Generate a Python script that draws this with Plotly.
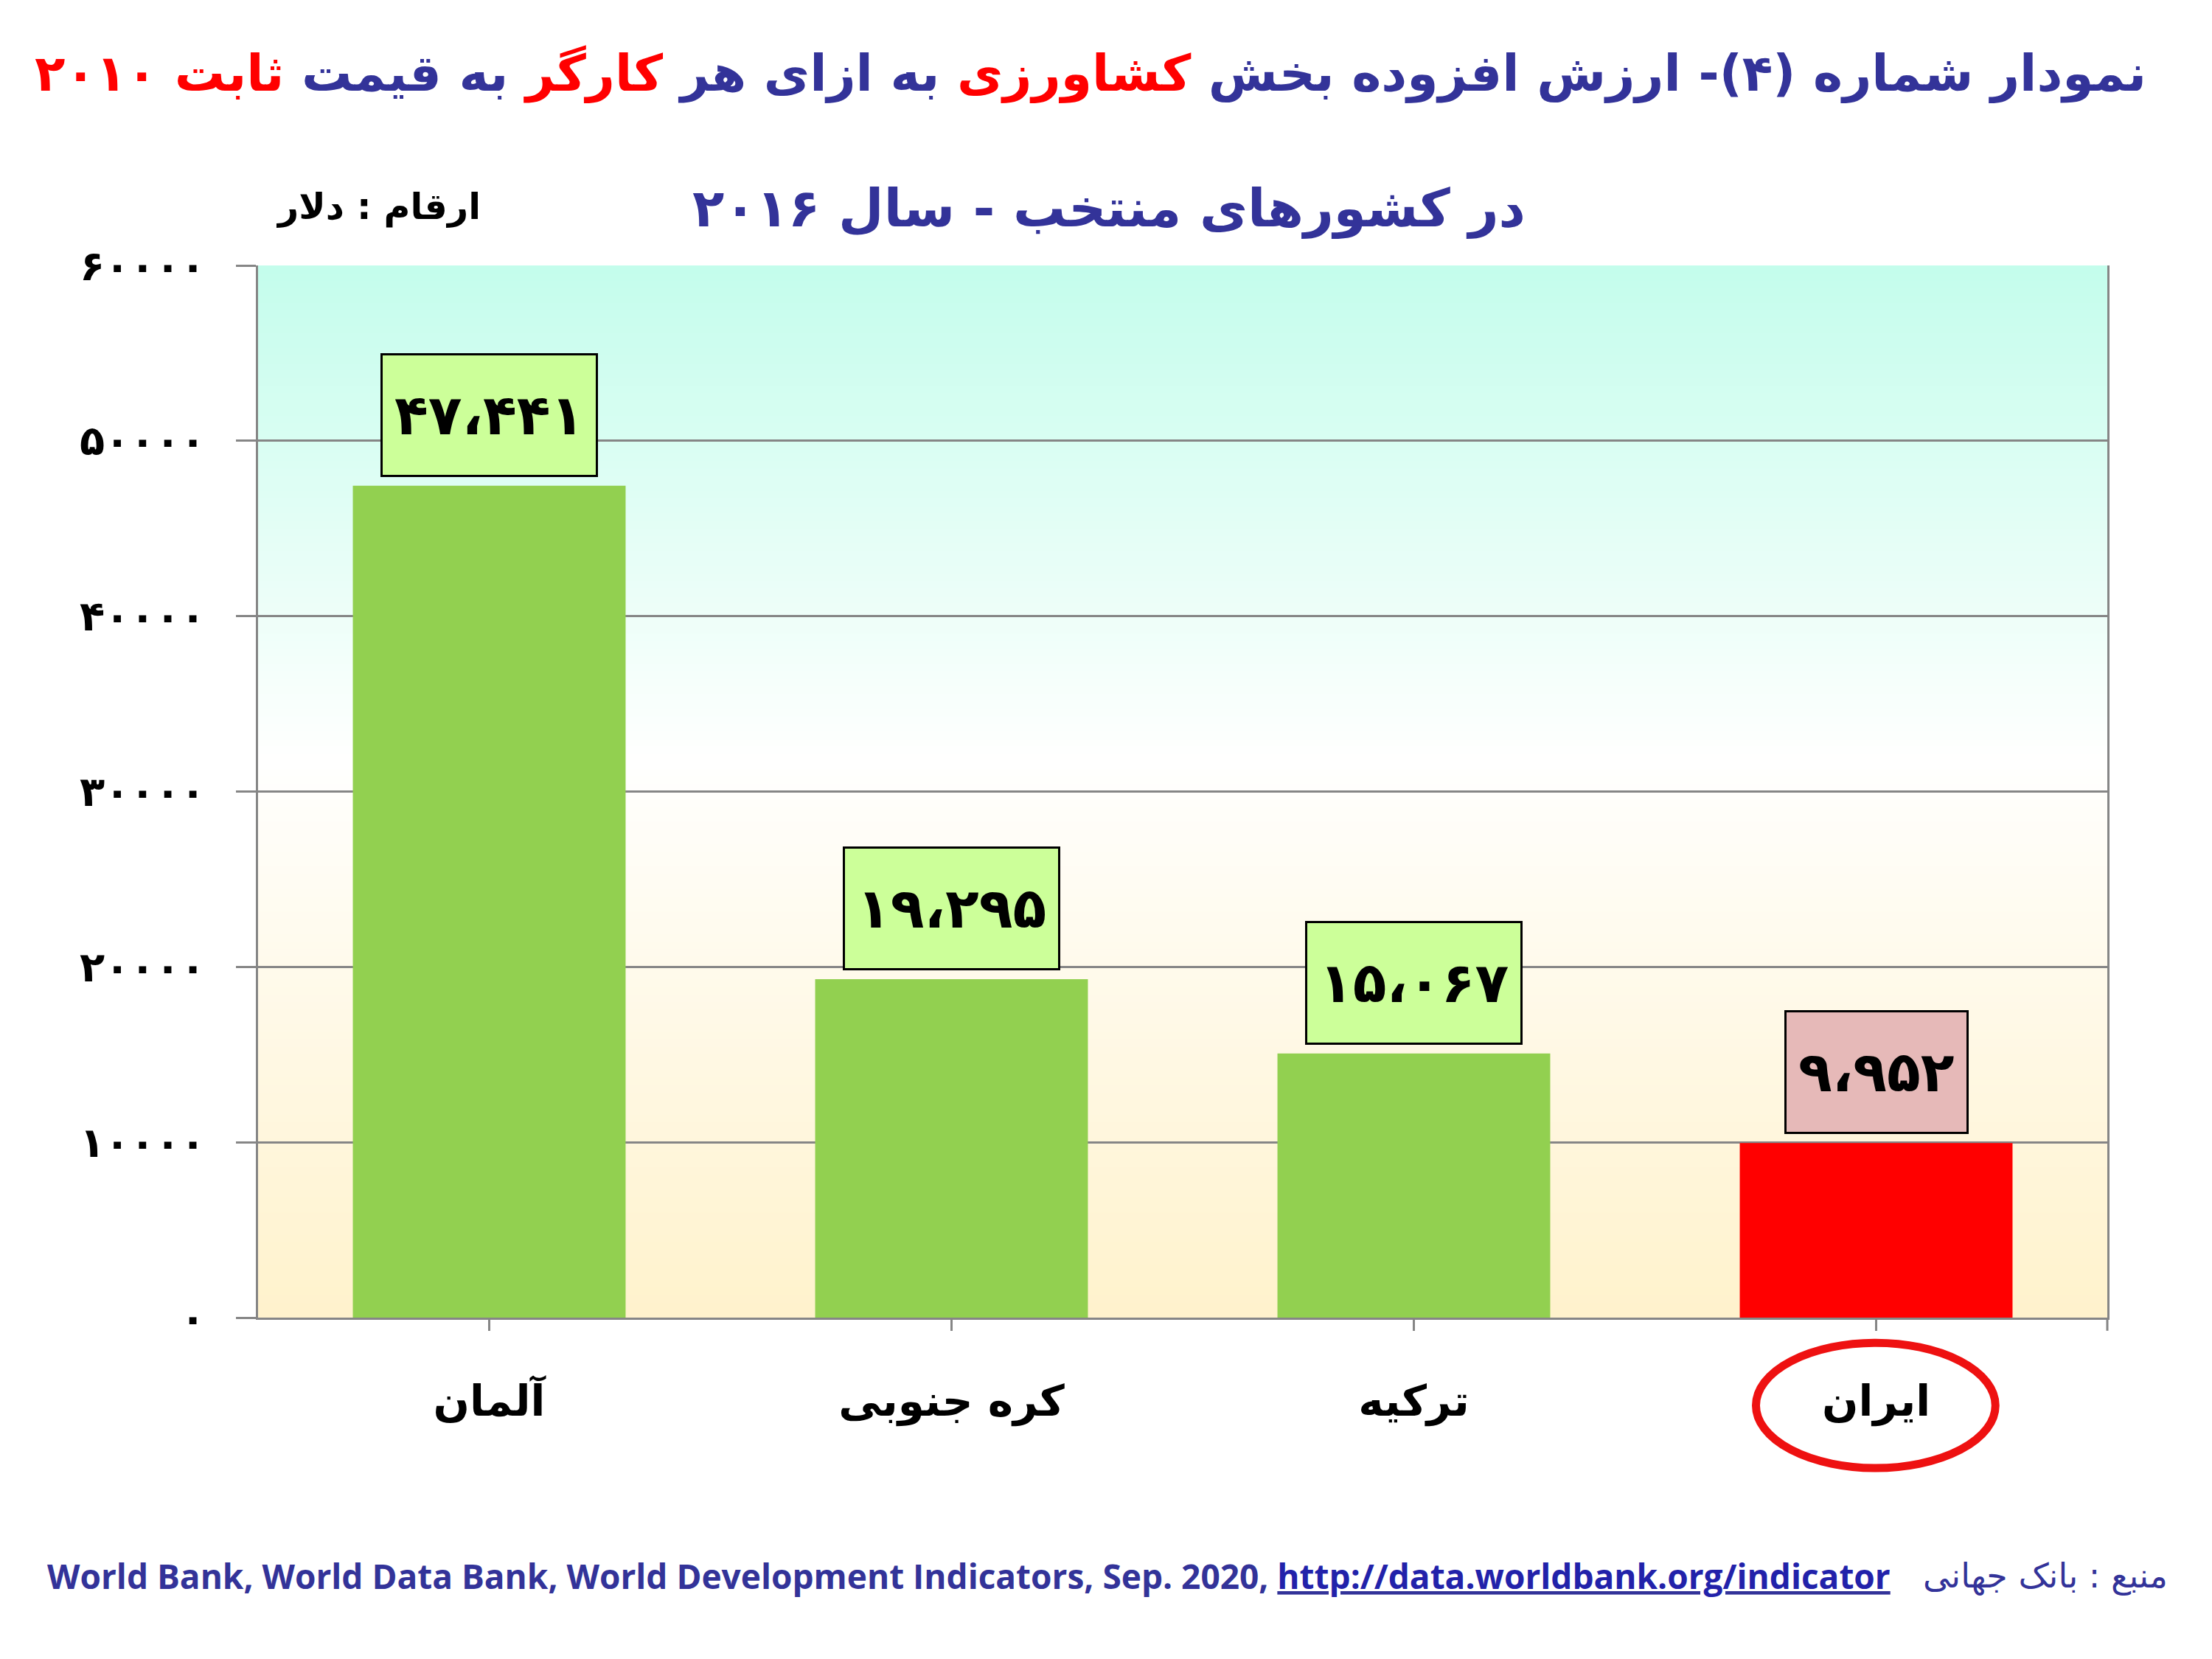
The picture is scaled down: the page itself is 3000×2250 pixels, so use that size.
import plotly.graph_objects as go

# ---- data ----
countries = ["آلمان", "کره جنوبی", "ترکیه", "ایران"]
values = [47441, 19295, 15067, 9952]
value_labels = ["۴۷،۴۴۱", "۱۹،۲۹۵", "۱۵،۰۶۷", "۹،۹۵۲"]
y_tickvals = [0, 10000, 20000, 30000, 40000, 50000, 60000]
y_ticktext = ["۰", "۱۰۰۰۰", "۲۰۰۰۰", "۳۰۰۰۰", "۴۰۰۰۰", "۵۰۰۰۰", "۶۰۰۰۰"]

# ---- styles ----
bar_colors = ["#92d050", "#92d050", "#92d050", "#ff0000"]
box_colors = ["#ccff99", "#ccff99", "#ccff99", "#e6b9b8"]
NAVY = "#333399"
RED = "#ff0000"
AR_FONT = "DejaVu Sans"
OFF = 8  # page body margin

fig = go.Figure()
fig.add_trace(go.Bar(
    x=countries, y=values, marker=dict(color=bar_colors, line=dict(width=0)),
    width=0.59, hoverinfo="skip", showlegend=False,
))

# gradient background strips
shapes = []
N = 140
def lerp(a, b, t):
    return tuple(int(round(a[i] + (b[i] - a[i]) * t)) for i in range(3))
top = (196, 253, 236)
mid = (255, 255, 254)
bot = (255, 242, 204)
for i in range(N):
    f = (i + 0.5) / N  # fraction from top
    if f < 0.47:
        c = lerp(top, mid, f / 0.47)
    else:
        c = lerp(mid, bot, (f - 0.47) / 0.53)
    y1 = 1 - i / N
    y0 = 1 - (i + 1) / N - 0.002
    shapes.append(dict(type="rect", xref="x domain", yref="y domain",
                       x0=0, x1=1, y0=max(y0, 0), y1=y1, layer="below",
                       line=dict(width=0), fillcolor="rgb(%d,%d,%d)" % c))
# extra tick at right end of x axis
shapes.append(dict(type="line", xref="x domain", yref="paper", x0=1, x1=1,
                   y0=0, y1=-0.0125, line=dict(color="#868686", width=3)))
# red ellipse around Iran
shapes.append(dict(type="circle", xref="x", yref="paper", x0=2.74, x1=3.258,
                   y0=-0.143, y1=-0.024, line=dict(color="#ee1111", width=11)))

annotations = []
for i, (c, v, t) in enumerate(zip(countries, values, value_labels)):
    annotations.append(dict(
        x=c, y=v, xref="x", yref="y", yanchor="bottom", yshift=12,
        text="<b>" + t + "</b>", showarrow=False,
        font=dict(family=AR_FONT, size=75, color="black"),
        bgcolor=box_colors[i], bordercolor="black", borderwidth=3,
        borderpad=16, height=130,
    ))

title1 = ("<b>نمودار شماره (۴)- ارزش افزوده بخش "
          "<span style='color:%s'>کشاورزی</span> به ازای هر "
          "<span style='color:%s'>کارگر</span> به قیمت "
          "<span style='color:%s'>ثابت ۲۰۱۰</span></b>") % (RED, RED, RED)
annotations.append(dict(x=1479, y=100, text=title1,
                        font=dict(family=AR_FONT, size=68, color=NAVY)))
annotations.append(dict(text="<b>در کشورهای منتخب - سال ۲۰۱۶</b>",
                        x=1504, y=283,
                        font=dict(family=AR_FONT, size=71, color=NAVY)))
annotations.append(dict(text="<b>ارقام : دلار</b>", x=513, y=281,
                        font=dict(family=AR_FONT, size=49, color="black")))
annotations.append(dict(
    text="World Bank, World Data Bank, World Development Indicators, Sep. 2020, "
         "<u><span style='color:#2222aa'>http://data.worldbank.org/indicator</span></u>",
    x=2566, y=2137, xanchor="right",
    font=dict(family="Open Sans", size=46, color=NAVY, weight="bold")))
annotations.append(dict(text="منبع : بانک جهانی", x=2942, y=2137, xanchor="right",
                        font=dict(family=AR_FONT, size=46, color=NAVY)))

# margins (page coords of plot area: x 350..2858, y 360..1787)
L, R, T, B = 350 - OFF, 3000 - 2858 + OFF, 360 - OFF, 2250 - 1787 + OFF
PW, PH = 3000 - L - R, 2250 - T - B
for a in annotations:
    if "xref" not in a:
        a["xref"] = "paper"
        a["yref"] = "paper"
        a["showarrow"] = False
        a.setdefault("xanchor", "center")
        a.setdefault("yanchor", "middle")
        a["x"] = (a["x"] - OFF - L) / PW
        a["y"] = (2250 - (a["y"] - OFF) - B) / PH

fig.update_layout(
    width=3000, height=2250,
    margin=dict(l=L, r=R, t=T, b=B, pad=0),
    paper_bgcolor="white", plot_bgcolor="white",
    bargap=0.41,
    shapes=shapes, annotations=annotations,
    xaxis=dict(
        showline=True, linecolor="#868686", linewidth=3,
        ticks="outside", ticklen=15, tickwidth=3, tickcolor="#868686",
        tickfont=dict(family=AR_FONT, size=58, color="black", weight="bold"),
        ticklabelstandoff=45, showgrid=False,
    ),
    yaxis=dict(
        range=[0, 60000], tickvals=y_tickvals, ticktext=y_ticktext,
        showline=True, linecolor="#868686", linewidth=3, mirror=True,
        ticks="outside", ticklen=27, tickwidth=3, tickcolor="#868686",
        showgrid=True, gridcolor="#868686", gridwidth=2.5,
        tickfont=dict(family=AR_FONT, size=56, color="black", weight="bold"),
        ticklabelstandoff=30, zeroline=False,
    ),
)

fig.write_html("out.html")
